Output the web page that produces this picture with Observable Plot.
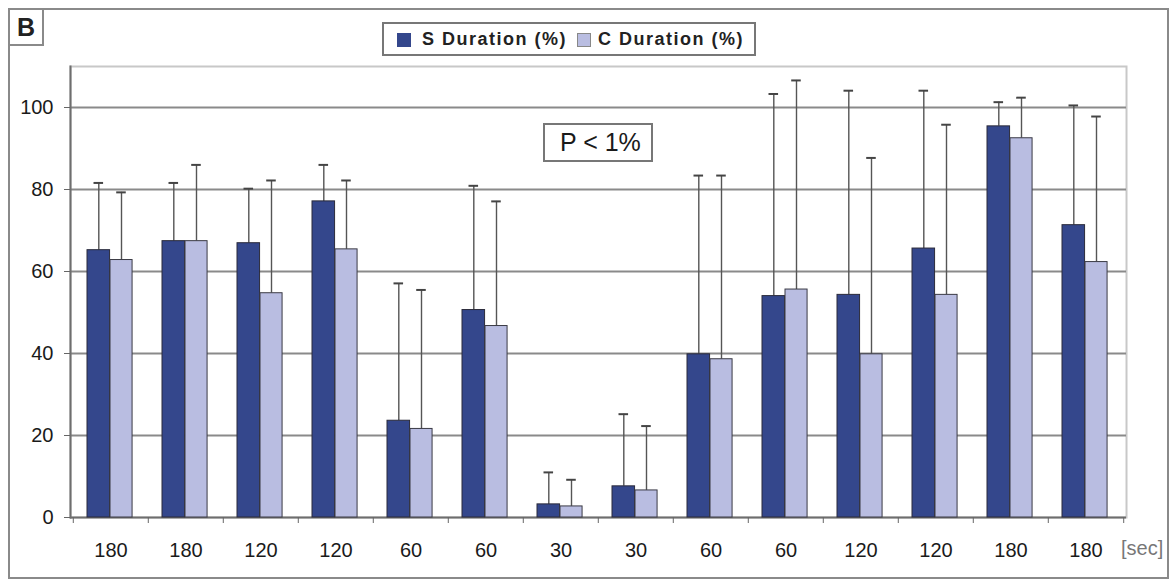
<!DOCTYPE html>
<html>
<head>
<meta charset="utf-8">
<script src="https://cdn.jsdelivr.net/npm/d3@7"></script>
<script src="https://cdn.jsdelivr.net/npm/@observablehq/plot@0.6"></script>
<style>
  html, body { margin: 0; padding: 0; background: #fff; }
  body { width: 1172px; height: 580px; position: relative; overflow: hidden; font-family: "Liberation Sans", Arial, sans-serif; }
  #chart { position: absolute; left: 0; top: 0; }
  .ov { position: absolute; box-sizing: border-box; }
  #outer { left: 8px; top: 8px; width: 1161px; height: 571px; border: 2px solid #8a8a8a; }
  #bbox { left: 8px; top: 8px; width: 36px; height: 38px; border: 2px solid #8a8a8a; font-weight: bold; font-size: 25px; color: #222; text-align: center; line-height: 34px; }
  #legend { left: 382px; top: 22px; width: 374px; height: 34px; border: 2px solid #777; background: #fff; }
  .sw { position: absolute; top: 9px; width: 14px; height: 14px; box-sizing: border-box; }
  .lt { position: absolute; top: 5px; font-weight: bold; font-size: 18px; color: #222; white-space: nowrap; letter-spacing: 1.5px; line-height: 20px; }
  #pbox { left: 543px; top: 123px; width: 110px; height: 39px; border: 2px solid #777; background: #fff; font-size: 25px; color: #1a1a1a; line-height: 35px; padding-left: 15px; white-space: nowrap; }
  #sec { left: 1121px; top: 537px; font-size: 20px; color: #777; white-space: nowrap; }
</style>
</head>
<body>
<div id="chart"></div>
<script>
// ---- data ----
const labels = ["180","180","120","120","60","60","30","30","60","60","120","120","180","180"];
const sMean  = [65.2, 67.4, 66.9, 77.1, 23.6, 50.6, 3.2, 7.6, 39.8, 54.0, 54.3, 65.6, 95.4, 71.3];
const sSD    = [16.4, 14.2, 13.3, 8.9, 33.5, 30.3, 7.8, 17.6, 43.6, 49.3, 49.8, 38.5, 5.9, 29.2];
const cMean  = [62.8, 67.4, 54.7, 65.4, 21.6, 46.7, 2.7, 6.6, 38.6, 55.6, 39.8, 54.3, 92.5, 62.3];
const cSD    = [16.5, 18.6, 27.5, 16.8, 33.9, 30.4, 6.5, 15.7, 44.8, 51.0, 47.9, 41.5, 9.9, 35.5];
const seriesNames = ["S Duration (%)", "C Duration (%)"];
const yTicks = [0, 20, 40, 60, 80, 100];

const darkFill = "#34478c";
const lightFill = "#b9bde1";

const idx = labels.map((_, i) => i);
const sData = idx.map(i => ({g: i, v: sMean[i], hi: sMean[i] + sSD[i]}));
const cData = idx.map(i => ({g: i, v: cMean[i], hi: cMean[i] + cSD[i]}));

const W = 1172, H = 580, mL = 70, mR = 46, mT = 66, mB = 63;
const step = (W - mL - mR) / labels.length;
const half = step / 2;

const chart = Plot.plot({
  width: W, height: H,
  marginLeft: mL, marginRight: mR, marginTop: mT, marginBottom: mB,
  style: {fontFamily: "'Liberation Sans', Arial, sans-serif", background: "transparent", color: "#1a1a1a"},
  x: {type: "band", domain: idx, padding: 0, axis: null},
  y: {domain: [0, 110], axis: null},
  marks: [
    Plot.frame({stroke: "#c8c8c8", strokeWidth: 2}),
    Plot.gridY(yTicks.filter(d => d > 0), {stroke: "#8a8a8a", strokeWidth: 2, strokeOpacity: 1}),
    Plot.frame({anchor: "left", stroke: "#6e6e6e", strokeWidth: 2}),
    Plot.ruleY([0], {stroke: "#6e6e6e", strokeWidth: 2}),
    Plot.axisY({ticks: yTicks, tickSize: 6, tickPadding: 11, fontSize: 20, label: null, stroke: "#666"}),
    Plot.axisX({ticks: idx, tickSize: 0, tickPadding: 25, fontSize: 20, tickFormat: i => labels[i], label: null}),
    Plot.axisX({ticks: idx, tickSize: 6, tickFormat: () => "", dx: -half, label: null, stroke: "#666"}),
    Plot.axisX({ticks: [idx[idx.length - 1]], tickSize: 6, tickFormat: () => "", dx: half, label: null, stroke: "#666"}),
    // error bars (upper whisker only)
    Plot.ruleX(sData, {x: "g", y1: "v", y2: "hi", dx: -12.2, stroke: "#555", strokeWidth: 1.4}),
    Plot.ruleX(cData, {x: "g", y1: "v", y2: "hi", dx: 10.5, stroke: "#555", strokeWidth: 1.4}),
    Plot.tickY(sData, {x: "g", y: "hi", insetLeft: 20.5, insetRight: step - 30.5, stroke: "#444", strokeWidth: 2}),
    Plot.tickY(cData, {x: "g", y: "hi", insetLeft: 43.2, insetRight: step - 53.2, stroke: "#444", strokeWidth: 2}),
    // bars
    Plot.barY(sData, {x: "g", y: "v", insetLeft: 14, insetRight: step - 37, fill: darkFill, stroke: "#2a2a3a", strokeWidth: 1}),
    Plot.barY(cData, {x: "g", y: "v", insetLeft: 37, insetRight: step - 59.5, fill: lightFill, stroke: "#3a3a44", strokeWidth: 1})
  ]
});
document.getElementById("chart").appendChild(chart);

// decorations
function ov(id, html) { const d = document.createElement("div"); d.id = id; d.className = "ov"; d.innerHTML = html || ""; document.body.appendChild(d); return d; }
ov("outer");
ov("bbox", "B");
ov("legend",
  `<span class="sw" style="left:13px;background:${darkFill}"></span><span class="lt" style="left:38px">${seriesNames[0]}</span>` +
  `<span class="sw" style="left:193px;background:${lightFill};border:1px solid #888"></span><span class="lt" style="left:214px">${seriesNames[1]}</span>`);
ov("pbox", "P &lt; 1%");
ov("sec", "[sec]");
</script>
</body>
</html>
